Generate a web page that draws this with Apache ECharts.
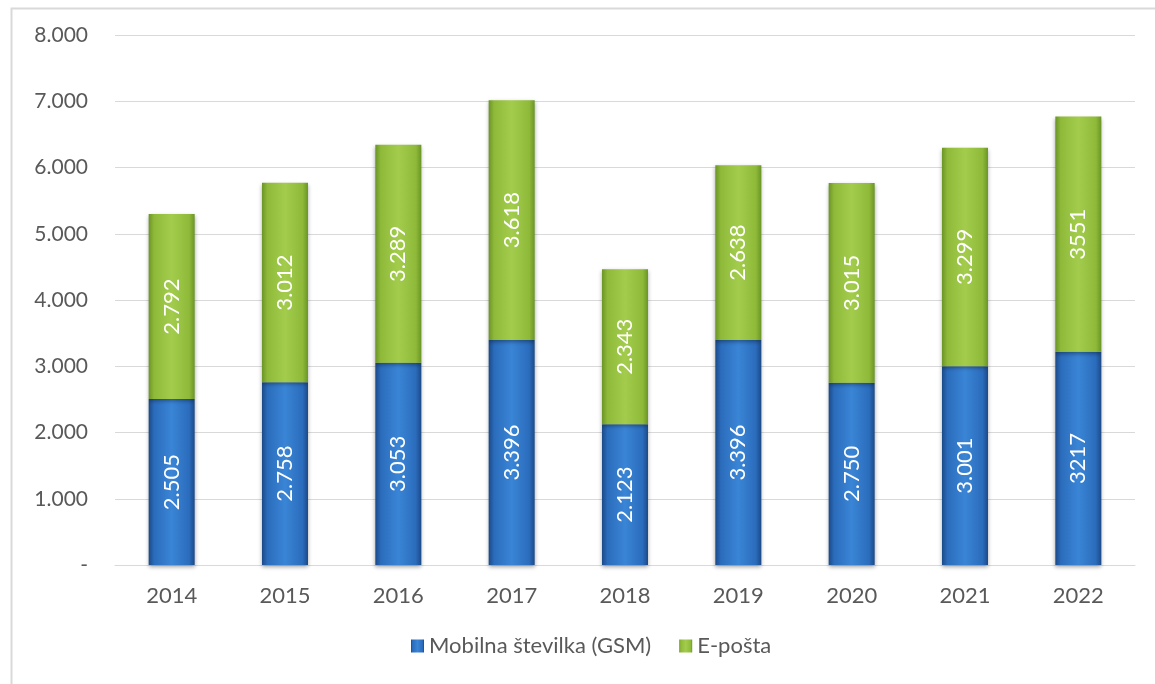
<!DOCTYPE html>
<html>
<head>
<meta charset="utf-8">
<script src="https://cdn.jsdelivr.net/npm/echarts@6/dist/echarts.min.js"></script>
<style>
  html, body { margin: 0; padding: 0; background: #fff; }
  #chart { width: 1155px; height: 684px; }
</style>
</head>
<body>
<div id="chart"></div>
<script>
// podatki
var years = ["2014", "2015", "2016", "2017", "2018", "2019", "2020", "2021", "2022"];
var gsm = [2505, 2758, 3053, 3396, 2123, 3396, 2750, 3001, 3217];
var email = [2792, 3012, 3289, 3618, 2343, 2638, 3015, 3299, 3551];
var gsmLabels = ["2.505", "2.758", "3.053", "3.396", "2.123", "3.396", "2.750", "3.001", "3217"];
var emailLabels = ["2.792", "3.012", "3.289", "3.618", "2.343", "2.638", "3.015", "3.299", "3551"];
var yTicks = ["-", "1.000", "2.000", "3.000", "4.000", "5.000", "6.000", "7.000", "8.000"];

var font = "Lato, 'Open Sans', sans-serif";

var chart = echarts.init(document.getElementById("chart"));

function barStyle(light, mid, dark) {
    return {
        color: {
            type: "linear", x: 0, y: 0, x2: 1, y2: 0,
            colorStops: [
                { offset: 0, color: dark },
                { offset: 0.12, color: mid },
                { offset: 0.5, color: light },
                { offset: 0.88, color: mid },
                { offset: 1, color: dark }
            ]
        },
        shadowBlur: 4,
        shadowColor: "rgba(0,0,0,0.35)",
        shadowOffsetY: 2
    };
}

function label(texts) {
    return {
        show: true,
        position: "inside",
        rotate: 90,
        color: "#ffffff",
        fontFamily: font,
        fontSize: 22,
        formatter: function (p) { return texts[p.dataIndex]; }
    };
}

chart.setOption({
    animation: false,
    graphic: [{
        type: "rect",
        left: 9, top: 6,
        shape: { width: 1170, height: 700 },
        style: { fill: "none", stroke: "#d9d9d9", lineWidth: 2 },
        silent: true
    }],
    grid: { left: 115, right: 20, top: 35, bottom: 119, containLabel: false },
    legend: {
        bottom: 22,
        left: 406,
        itemWidth: 13,
        itemHeight: 13,
        itemGap: 28,
        icon: "rect",
        textStyle: { color: "#595959", fontFamily: font, fontSize: 22 },
        data: ["Mobilna številka (GSM)", "E-pošta"]
    },
    xAxis: {
        type: "category",
        data: years,
        axisLine: { lineStyle: { color: "#d9d9d9", width: 1 } },
        axisTick: { show: false },
        axisLabel: { color: "#595959", fontFamily: font, fontSize: 22, margin: 20 }
    },
    yAxis: {
        type: "value",
        min: 0, max: 8000, interval: 1000,
        axisLine: { show: false },
        axisTick: { show: false },
        splitLine: { lineStyle: { color: "#d9d9d9", width: 1 } },
        axisLabel: {
            color: "#595959", fontFamily: font, fontSize: 21, margin: 27,
            formatter: function (v) { return yTicks[Math.round(v / 1000)]; }
        }
    },
    series: [
        {
            name: "Mobilna številka (GSM)",
            type: "bar",
            stack: "skupaj",
            barWidth: 46,
            data: gsm,
            itemStyle: barStyle("#3a85d6", "#2b6cbc", "#1b4a88"),
            label: label(gsmLabels)
        },
        {
            name: "E-pošta",
            type: "bar",
            stack: "skupaj",
            barWidth: 46,
            data: email,
            itemStyle: barStyle("#a3cc4c", "#8fba39", "#6b9526"),
            label: label(emailLabels)
        }
    ]
});
</script>
</body>
</html>
